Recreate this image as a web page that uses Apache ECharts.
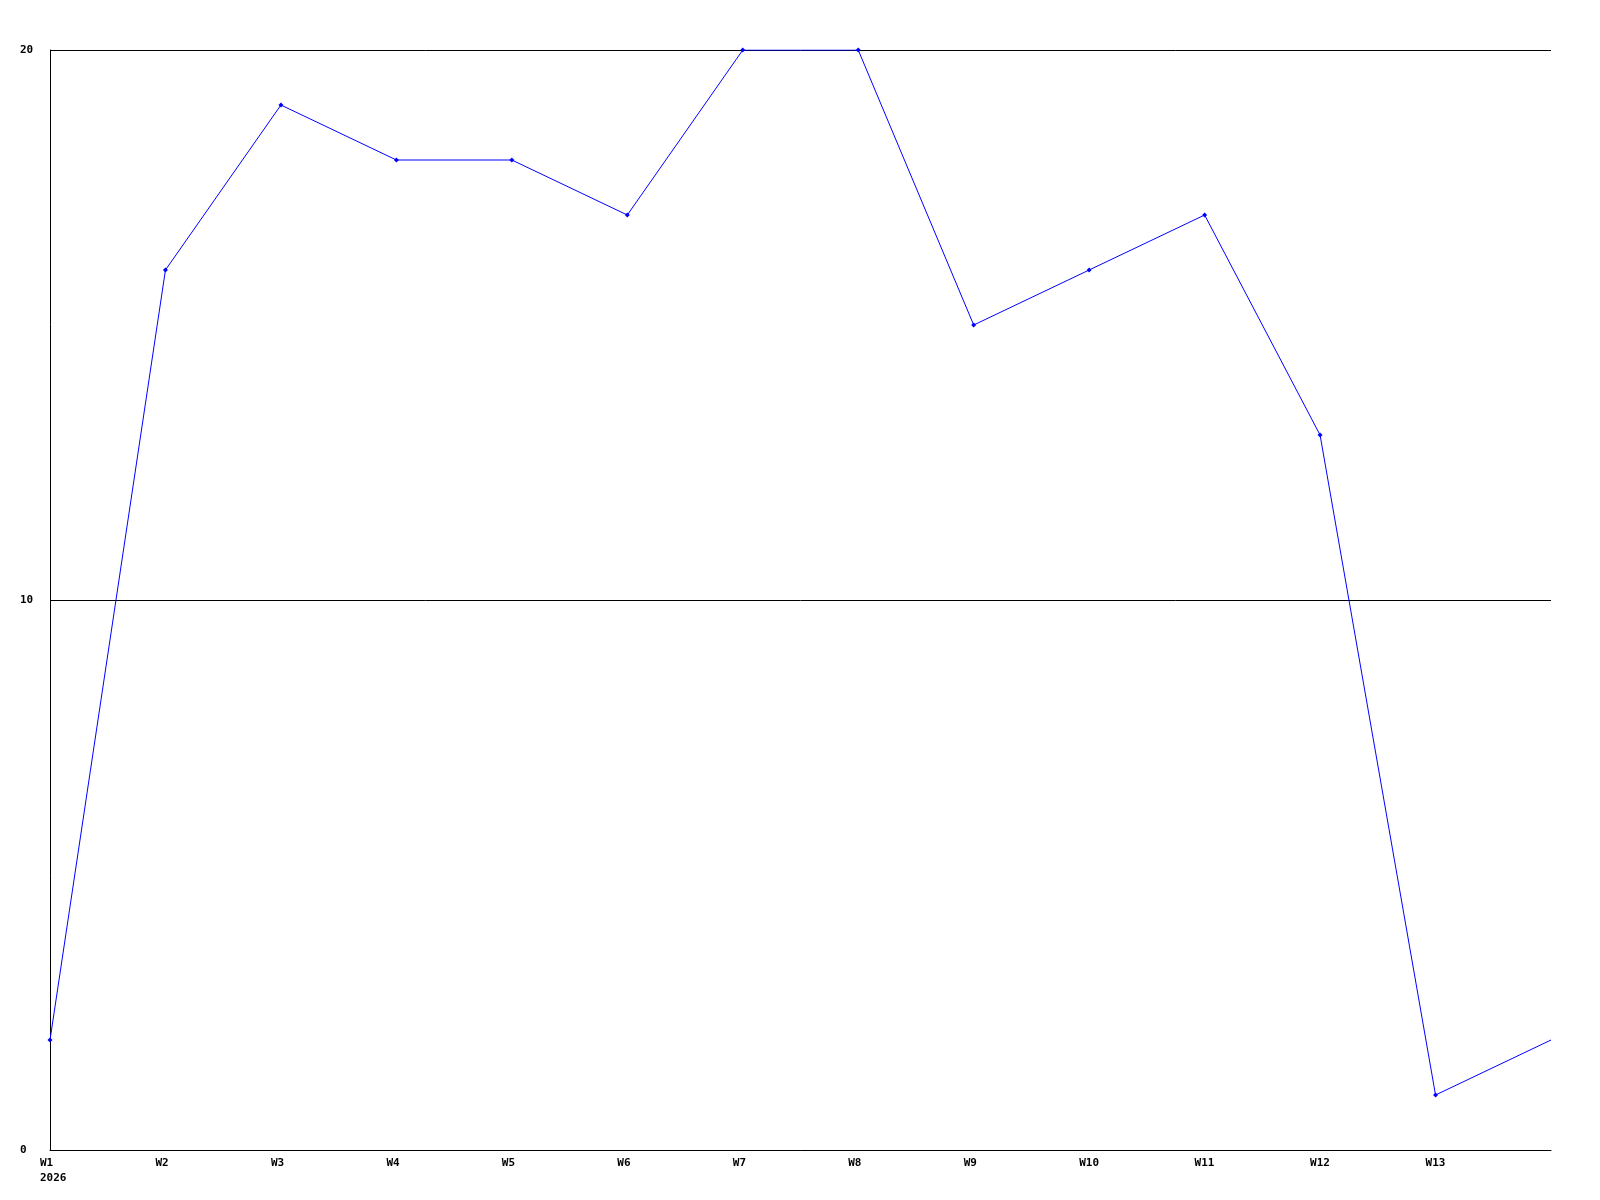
<!DOCTYPE html>
<html>
<head>
<meta charset="utf-8">
<script src="https://cdn.jsdelivr.net/npm/echarts@6/dist/echarts.min.js"></script>
<style>html,body{margin:0;padding:0;background:#fff}#c{width:1600px;height:1200px}</style>
</head>
<body>
<div id="c"></div>
<script>
const categories = ['W1','W2','W3','W4','W5','W6','W7','W8','W9','W10','W11','W12','W13','W14'];
const values = [2,16,19,18,18,17,20,20,15,16,17,13,1,2];
const yTicks = [0,10,20];
const yearLabel = '2026';

const chart = echarts.init(document.getElementById('c'), null, {renderer:'canvas'});
const font = {fontFamily:'DejaVu Sans Mono', fontWeight:'bold', fontSize:11, color:'#000'};
chart.setOption({
  animation:false,
  backgroundColor:'#fff',
  grid:{left:50, top:50, right:49, bottom:50, containLabel:false},
  xAxis:{
    type:'category', data:categories, boundaryGap:false,
    axisLine:{show:true, lineStyle:{color:'#000', width:1}},
    axisTick:{show:false},
    splitLine:{show:false},
    axisLabel:Object.assign({}, font, {
      interval:0, align:'left', margin:6, lineHeight:15,
      padding:[0,0,0,-10],
      formatter:(v,i)=> i===categories.length-1 ? '' : (i===0 ? v+'\n'+yearLabel : v)
    })
  },
  yAxis:{
    type:'value', min:yTicks[0], max:yTicks[yTicks.length-1], interval:10,
    axisLine:{show:true, lineStyle:{color:'#000', width:1}},
    axisTick:{show:false},
    splitLine:{show:true, lineStyle:{color:'#000', width:1}},
    axisLabel:Object.assign({}, font, {align:'left', margin:30})
  },
  series:[{
    type:'line', data:values,
    lineStyle:{color:'#0000ff', width:1},
    itemStyle:{color:'#0000ff'},
    symbol:'diamond',
    symbolSize:(v,p)=> p.dataIndex===values.length-1 ? 0 : 5,
    showAllSymbol:true
  }]
});
</script>
</body>
</html>
